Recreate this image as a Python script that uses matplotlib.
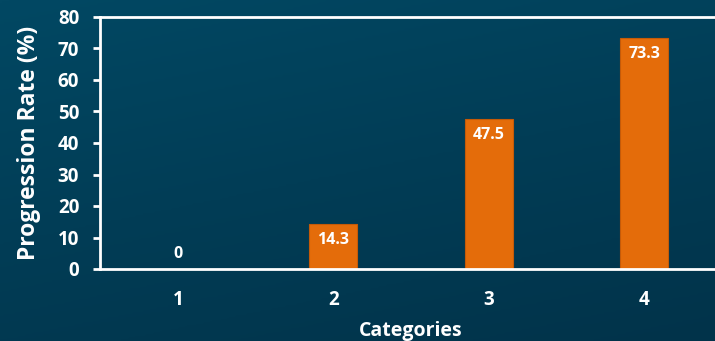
import matplotlib
matplotlib.use("Agg")
import matplotlib.pyplot as plt
import numpy as np
from matplotlib.colors import LinearSegmentedColormap

categories = ["1", "2", "3", "4"]
values = [0, 14.3, 47.5, 73.3]
yticks = [0, 10, 20, 30, 40, 50, 60, 70, 80]

plt.rcParams['font.family'] = ['Open Sans', 'DejaVu Sans']
plt.rcParams['font.weight'] = 'bold'

fig = plt.figure(figsize=(7.15, 3.41), dpi=100)

# background gradient (lighter top-left, darker bottom/right)
bg = fig.add_axes([0, 0, 1, 1], zorder=-10)
cmap = LinearSegmentedColormap.from_list("bg", ["#024863", "#013d56", "#02334a"])
yy, xx = np.mgrid[0:1:200j, 0:1:200j]
grad = 0.7 * yy + 0.3 * xx
bg.imshow(grad, cmap=cmap, aspect='auto', extent=[0, 1, 0, 1], origin='upper')
bg.axis('off')

ax = fig.add_axes([100/715, 1 - 269/341, 622/715, 252/341])
ax.patch.set_alpha(0)
x = np.arange(1, len(categories) + 1)
bars = ax.bar(x, values, width=0.31, color='#e46c0a', edgecolor='#c55a08', linewidth=0.8)
for xi, v in zip(x, values):
    if v < 5:
        ax.text(xi, v + 2.2, f"{v:g}", ha='center', va='bottom', color='white',
                fontsize=11.5, fontweight='bold')
    else:
        ax.text(xi, v - 2.4, f"{v:g}", ha='center', va='top', color='white',
                fontsize=11.5, fontweight='bold')

ax.set_xlim(0.5, 4.5)
ax.set_ylim(0, 80)
ax.set_yticks(yticks)
ax.set_xticks(x)
ax.set_xticklabels(categories)
for s in ['left', 'bottom', 'top', 'right']:
    ax.spines[s].set_color('white')
    ax.spines[s].set_linewidth(2)
ax.tick_params(axis='y', colors='white', labelsize=13.5, length=5, width=2, pad=10)
ax.tick_params(axis='x', colors='white', labelsize=13.5, length=0, pad=15)
for lab in ax.get_xticklabels() + ax.get_yticklabels():
    lab.set_fontweight('bold')
ax.set_ylabel("Progression Rate (%)", color='white', fontsize=16.5, fontweight='bold', labelpad=12)
ax.set_xlabel("Categories", color='white', fontsize=14, fontweight='bold', labelpad=8)

fig.savefig("out.png", dpi=100)
